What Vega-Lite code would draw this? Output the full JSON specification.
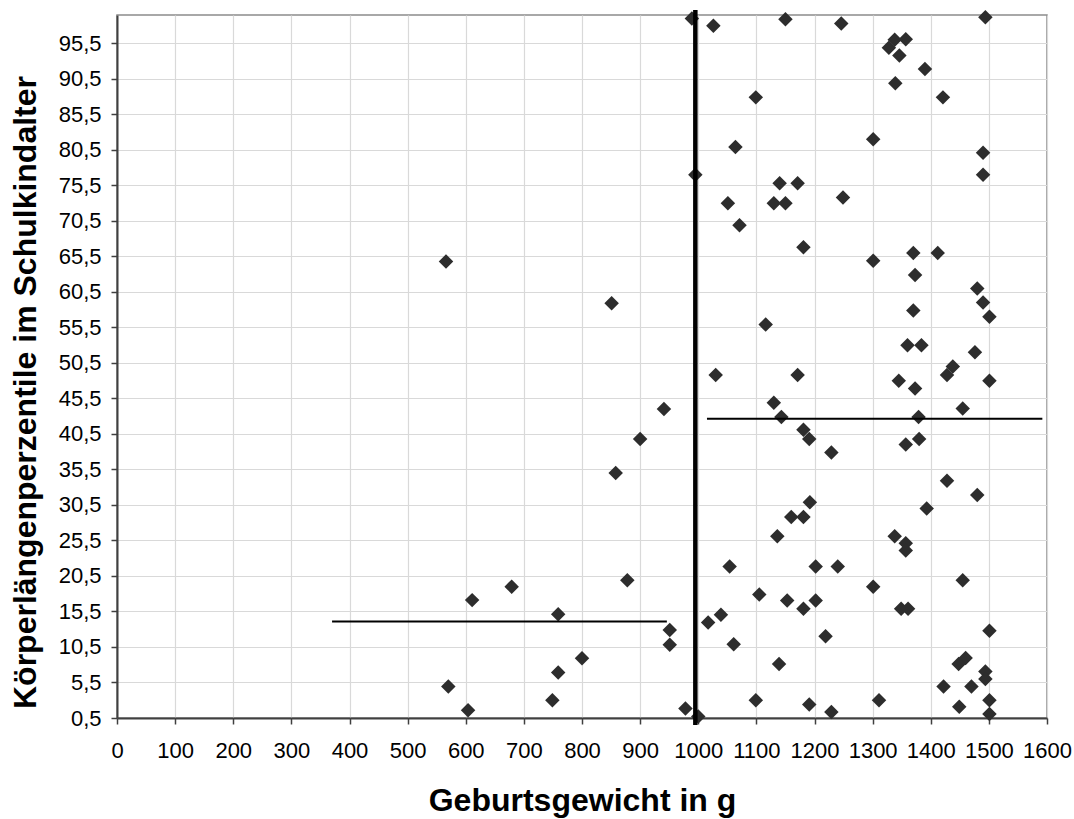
{
  "$schema": "https://vega.github.io/schema/vega-lite/v6.json",
  "width": 930,
  "height": 703,
  "autosize": {"type": "none"},
  "padding": {"left": 117, "top": 15, "right": 27, "bottom": 101},
  "background": "white",
  "datasets": {
    "points": [
      {"gewicht": 566, "perzentile": 64.8}, {"gewicht": 851, "perzentile": 58.9},
      {"gewicht": 941, "perzentile": 44.0}, {"gewicht": 900, "perzentile": 39.8},
      {"gewicht": 858, "perzentile": 35.0}, {"gewicht": 878, "perzentile": 19.9},
      {"gewicht": 679, "perzentile": 19.0}, {"gewicht": 611, "perzentile": 17.1},
      {"gewicht": 759, "perzentile": 15.1}, {"gewicht": 951, "perzentile": 12.9},
      {"gewicht": 951, "perzentile": 10.8}, {"gewicht": 800, "perzentile": 8.9},
      {"gewicht": 759, "perzentile": 6.9}, {"gewicht": 570, "perzentile": 4.95},
      {"gewicht": 604, "perzentile": 1.6}, {"gewicht": 749, "perzentile": 3.0},
      {"gewicht": 978, "perzentile": 1.85}, {"gewicht": 1000, "perzentile": 0.7},
      {"gewicht": 989, "perzentile": 99.0}, {"gewicht": 1026, "perzentile": 98.0},
      {"gewicht": 1150, "perzentile": 98.9}, {"gewicht": 1246, "perzentile": 98.3},
      {"gewicht": 1494, "perzentile": 99.2}, {"gewicht": 1328, "perzentile": 94.9},
      {"gewicht": 1338, "perzentile": 96.0}, {"gewicht": 1357, "perzentile": 96.1},
      {"gewicht": 1346, "perzentile": 93.8}, {"gewicht": 1390, "perzentile": 91.9},
      {"gewicht": 1339, "perzentile": 89.9}, {"gewicht": 1099, "perzentile": 87.9},
      {"gewicht": 1421, "perzentile": 87.9}, {"gewicht": 1301, "perzentile": 82.0},
      {"gewicht": 1064, "perzentile": 80.9}, {"gewicht": 1490, "perzentile": 80.1},
      {"gewicht": 995, "perzentile": 77.0}, {"gewicht": 1490, "perzentile": 77.0},
      {"gewicht": 1140, "perzentile": 75.8}, {"gewicht": 1171, "perzentile": 75.8},
      {"gewicht": 1249, "perzentile": 73.8}, {"gewicht": 1051, "perzentile": 73.0},
      {"gewicht": 1130, "perzentile": 73.0}, {"gewicht": 1150, "perzentile": 73.0},
      {"gewicht": 1071, "perzentile": 69.9}, {"gewicht": 1181, "perzentile": 66.8},
      {"gewicht": 1370, "perzentile": 66.0}, {"gewicht": 1412, "perzentile": 66.0},
      {"gewicht": 1301, "perzentile": 64.9}, {"gewicht": 1373, "perzentile": 62.9},
      {"gewicht": 1480, "perzentile": 61.0}, {"gewicht": 1490, "perzentile": 59.0},
      {"gewicht": 1501, "perzentile": 57.0}, {"gewicht": 1370, "perzentile": 57.9},
      {"gewicht": 1116, "perzentile": 55.9}, {"gewicht": 1360, "perzentile": 53.0},
      {"gewicht": 1384, "perzentile": 53.0}, {"gewicht": 1476, "perzentile": 52.0},
      {"gewicht": 1438, "perzentile": 50.0}, {"gewicht": 1428, "perzentile": 48.8},
      {"gewicht": 1030, "perzentile": 48.8}, {"gewicht": 1171, "perzentile": 48.8},
      {"gewicht": 1345, "perzentile": 48.0}, {"gewicht": 1373, "perzentile": 46.9},
      {"gewicht": 1501, "perzentile": 48.0}, {"gewicht": 1130, "perzentile": 44.9},
      {"gewicht": 1143, "perzentile": 42.9}, {"gewicht": 1455, "perzentile": 44.1},
      {"gewicht": 1379, "perzentile": 42.9}, {"gewicht": 1181, "perzentile": 41.1},
      {"gewicht": 1191, "perzentile": 39.8}, {"gewicht": 1229, "perzentile": 37.9},
      {"gewicht": 1380, "perzentile": 39.8}, {"gewicht": 1357, "perzentile": 39.0},
      {"gewicht": 1428, "perzentile": 33.9}, {"gewicht": 1480, "perzentile": 31.9},
      {"gewicht": 1192, "perzentile": 30.9}, {"gewicht": 1393, "perzentile": 30.0},
      {"gewicht": 1160, "perzentile": 28.8}, {"gewicht": 1181, "perzentile": 28.8},
      {"gewicht": 1136, "perzentile": 26.1}, {"gewicht": 1338, "perzentile": 26.1},
      {"gewicht": 1357, "perzentile": 25.1}, {"gewicht": 1357, "perzentile": 24.1},
      {"gewicht": 1054, "perzentile": 21.85}, {"gewicht": 1202, "perzentile": 21.85},
      {"gewicht": 1240, "perzentile": 21.85}, {"gewicht": 1301, "perzentile": 19.0},
      {"gewicht": 1455, "perzentile": 19.9}, {"gewicht": 1105, "perzentile": 17.9},
      {"gewicht": 1153, "perzentile": 17.06}, {"gewicht": 1202, "perzentile": 17.06},
      {"gewicht": 1181, "perzentile": 15.9}, {"gewicht": 1349, "perzentile": 15.9},
      {"gewicht": 1361, "perzentile": 15.9}, {"gewicht": 1039, "perzentile": 15.05},
      {"gewicht": 1017, "perzentile": 13.96}, {"gewicht": 1501, "perzentile": 12.8},
      {"gewicht": 1219, "perzentile": 12.0}, {"gewicht": 1061, "perzentile": 10.9},
      {"gewicht": 1139, "perzentile": 8.1}, {"gewicht": 1460, "perzentile": 8.95},
      {"gewicht": 1448, "perzentile": 8.1}, {"gewicht": 1494, "perzentile": 7.06},
      {"gewicht": 1494, "perzentile": 6.0}, {"gewicht": 1422, "perzentile": 4.95},
      {"gewicht": 1470, "perzentile": 4.95}, {"gewicht": 1099, "perzentile": 3.0},
      {"gewicht": 1311, "perzentile": 3.0}, {"gewicht": 1501, "perzentile": 3.0},
      {"gewicht": 1191, "perzentile": 2.4}, {"gewicht": 1449, "perzentile": 2.1},
      {"gewicht": 1229, "perzentile": 1.35}, {"gewicht": 1501, "perzentile": 1.06}
    ],
    "grenze": [
      {"gewicht": 995, "von": -0.5, "bis": 100.2}
    ],
    "mittel": [
      {"von": 370, "bis": 946, "perzentile": 14.1},
      {"von": 1015, "bis": 1592, "perzentile": 42.65}
    ]
  },
  "encoding": {
    "x": {
      "type": "quantitative",
      "scale": {"domain": [0, 1600], "nice": false, "zero": false},
      "axis": {
        "title": "Geburtsgewicht in g",
        "values": [0, 100, 200, 300, 400, 500, 600, 700, 800, 900, 1000, 1100, 1200, 1300, 1400, 1500, 1600],
        "format": "d",
        "labelPadding": 16,
        "titleY": 92,
        "titleBaseline": "alphabetic"
      }
    },
    "y": {
      "type": "quantitative",
      "scale": {"domain": [0.5, 99.5], "nice": false, "zero": false},
      "axis": {
        "title": "Körperlängenperzentile im Schulkindalter",
        "values": [0.5, 5.5, 10.5, 15.5, 20.5, 25.5, 30.5, 35.5, 40.5, 45.5, 50.5, 55.5, 60.5, 65.5, 70.5, 75.5, 80.5, 85.5, 90.5, 95.5],
        "format": ".1f",
        "labelPadding": 10,
        "titleX": -82,
        "titleY": 377,
        "titleBaseline": "alphabetic"
      }
    }
  },
  "layer": [
    {
      "data": {"name": "points"},
      "mark": {"type": "point", "shape": "diamond", "filled": true, "size": 210, "color": "#2d2d2d", "opacity": 1},
      "encoding": {
        "x": {"field": "gewicht", "type": "quantitative"},
        "y": {"field": "perzentile", "type": "quantitative"}
      }
    },
    {
      "data": {"name": "grenze"},
      "mark": {"type": "rule", "color": "#000000", "strokeWidth": 4.5, "clip": false},
      "encoding": {
        "x": {"field": "gewicht", "type": "quantitative"},
        "y": {"field": "von", "type": "quantitative"},
        "y2": {"field": "bis"}
      }
    },
    {
      "data": {"name": "mittel"},
      "mark": {"type": "rule", "color": "#000000", "strokeWidth": 2},
      "encoding": {
        "x": {"field": "von", "type": "quantitative"},
        "x2": {"field": "bis"},
        "y": {"field": "perzentile", "type": "quantitative"}
      }
    }
  ],
  "config": {
    "locale": {
      "number": {"decimal": ",", "thousands": ".", "grouping": [3], "currency": ["", " €"]}
    },
    "view": {"stroke": "#8c8c8c", "strokeWidth": 1.5},
    "font": "Liberation Sans",
    "axis": {
      "grid": true,
      "gridColor": "#d9d9d9",
      "gridWidth": 1.2,
      "domainColor": "#404040",
      "domainWidth": 2,
      "tickColor": "#404040",
      "tickWidth": 1.5,
      "tickSize": 6,
      "labelOverlap": false,
      "labelFlush": false,
      "labelSeparation": 0,
      "labelFont": "Liberation Sans",
      "labelFontSize": 22,
      "labelColor": "#000000",
      "titleFont": "Liberation Sans",
      "titleFontSize": 32,
      "titleFontWeight": "bold",
      "titleColor": "#000000"
    }
  }
}
